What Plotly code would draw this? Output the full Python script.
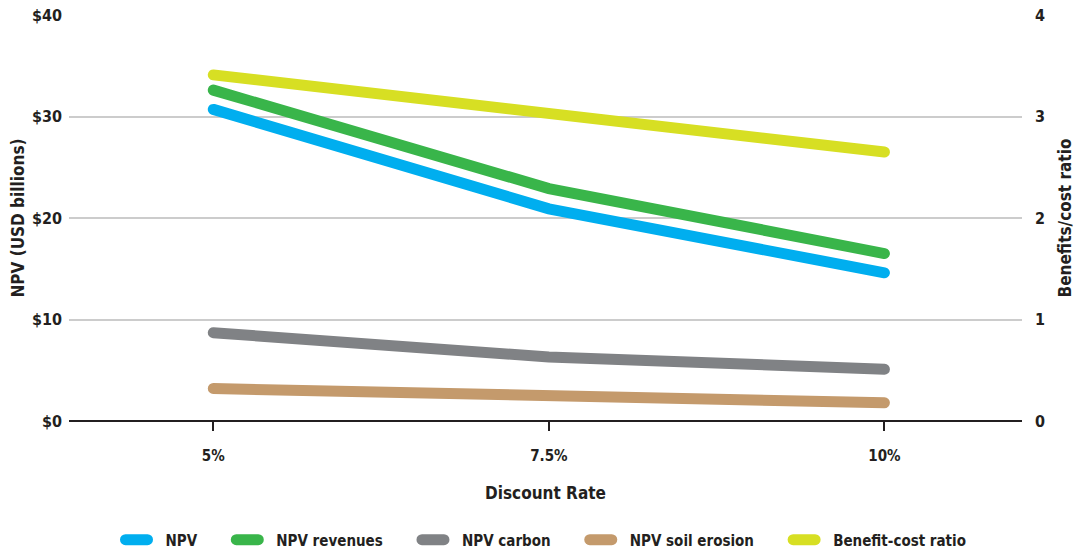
import plotly.graph_objects as go

# Discount-rate scenarios
rates = ["5%", "7.5%", "10%"]
npv = [30.7, 20.9, 14.6]
npv_revenues = [32.6, 22.9, 16.5]
npv_carbon = [8.7, 6.3, 5.1]
npv_soil_erosion = [3.2, 2.4, 1.8]
benefit_cost_ratio = [3.41, 3.03, 2.65]

npv_ticks = [0, 10, 20, 30, 40]
npv_ticktext = ["$0", "$10", "$20", "$30", "$40"]
ratio_ticks = [0, 1, 2, 3, 4]

FONT = "DejaVu Sans Condensed, Liberation Sans Narrow, Roboto, sans-serif"
INK = "#231f20"
PAD = "\u00a0" * 6  # spacing after each legend entry
xpos = list(range(len(rates)))

series = [
    ("NPV", npv, "#00aeef", "y"),
    ("NPV revenues", npv_revenues, "#39b54a", "y"),
    ("NPV carbon", npv_carbon, "#808285", "y"),
    ("NPV soil erosion", npv_soil_erosion, "#c49a6c", "y"),
    ("Benefit-cost ratio", benefit_cost_ratio, "#d7df23", "y2"),
]

fig = go.Figure()
for i, (name, vals, color, axis) in enumerate(series):
    label = name if i == len(series) - 1 else name + PAD
    fig.add_trace(go.Scatter(
        x=xpos, y=vals, name=label, mode="lines", yaxis=axis,
        line=dict(color=color, width=11),
    ))

fig.update_layout(
    width=1080, height=553,
    margin=dict(l=69, r=58, t=15, b=132, autoexpand=False),
    paper_bgcolor="white", plot_bgcolor="white",
    font=dict(family=FONT, color=INK, size=14, weight="bold"),
    showlegend=True,
    legend=dict(
        orientation="h", x=0.5, xanchor="center", y=-0.293, yanchor="middle",
        font=dict(size=15, family=FONT, color=INK, weight="bold"),
        itemwidth=36, tracegroupgap=0,
    ),
    xaxis=dict(
        range=[-0.43, 2.41], tickvals=xpos, ticktext=rates,
        ticks="outside", ticklen=9, tickwidth=2, tickcolor=INK,
        ticklabelstandoff=12,
        showgrid=False, zeroline=False,
        showline=False,
        tickfont=dict(size=15, family=FONT, color=INK, weight="bold"),
        title=dict(text="Discount Rate", standoff=23,
                   font=dict(size=17, family=FONT, color=INK, weight="bold")),
    ),
    yaxis=dict(
        range=[0, 40], tickvals=npv_ticks, ticktext=npv_ticktext,
        showgrid=True, gridcolor="#cccccc", gridwidth=1.5,
        zeroline=True, zerolinecolor=INK, zerolinewidth=2,
        showline=False, ticks="", ticklabelstandoff=6,
        tickfont=dict(size=16, family=FONT, color=INK, weight="bold"),
        title=dict(text="NPV (USD billions)", standoff=3,
                   font=dict(size=17, family=FONT, color=INK, weight="bold")),
    ),
    yaxis2=dict(
        range=[0, 4], tickvals=ratio_ticks, overlaying="y", side="right",
        showgrid=False, zeroline=False, showline=False, ticks="",
        ticklabelstandoff=12,
        tickfont=dict(size=16, family=FONT, color=INK, weight="bold"),
        title=dict(text="Benefits/cost ratio", standoff=15,
                   font=dict(size=17, family=FONT, color=INK, weight="bold")),
    ),
)

# Rounded ends on the series lines; pill-shaped legend swatches with a gap before the text
round_caps = """
var gd = document.querySelector('.plotly-graph-div');
function roundCaps(){
  document.querySelectorAll('.scatterlayer .js-line').forEach(function(p){
    p.style.strokeLinecap = 'round';
  });
  document.querySelectorAll('.legend .js-line').forEach(function(p){
    p.style.strokeLinecap = 'round';
    p.style.strokeWidth = '11px';
    p.setAttribute('d', 'M6,0h22');
  });
  document.querySelectorAll('.legend .legendtext').forEach(function(t){
    t.setAttribute('x', '46');
  });
}
roundCaps();
if (gd && gd.on) { gd.on('plotly_afterplot', roundCaps); }
"""

fig.write_html("out.html", post_script=round_caps)
